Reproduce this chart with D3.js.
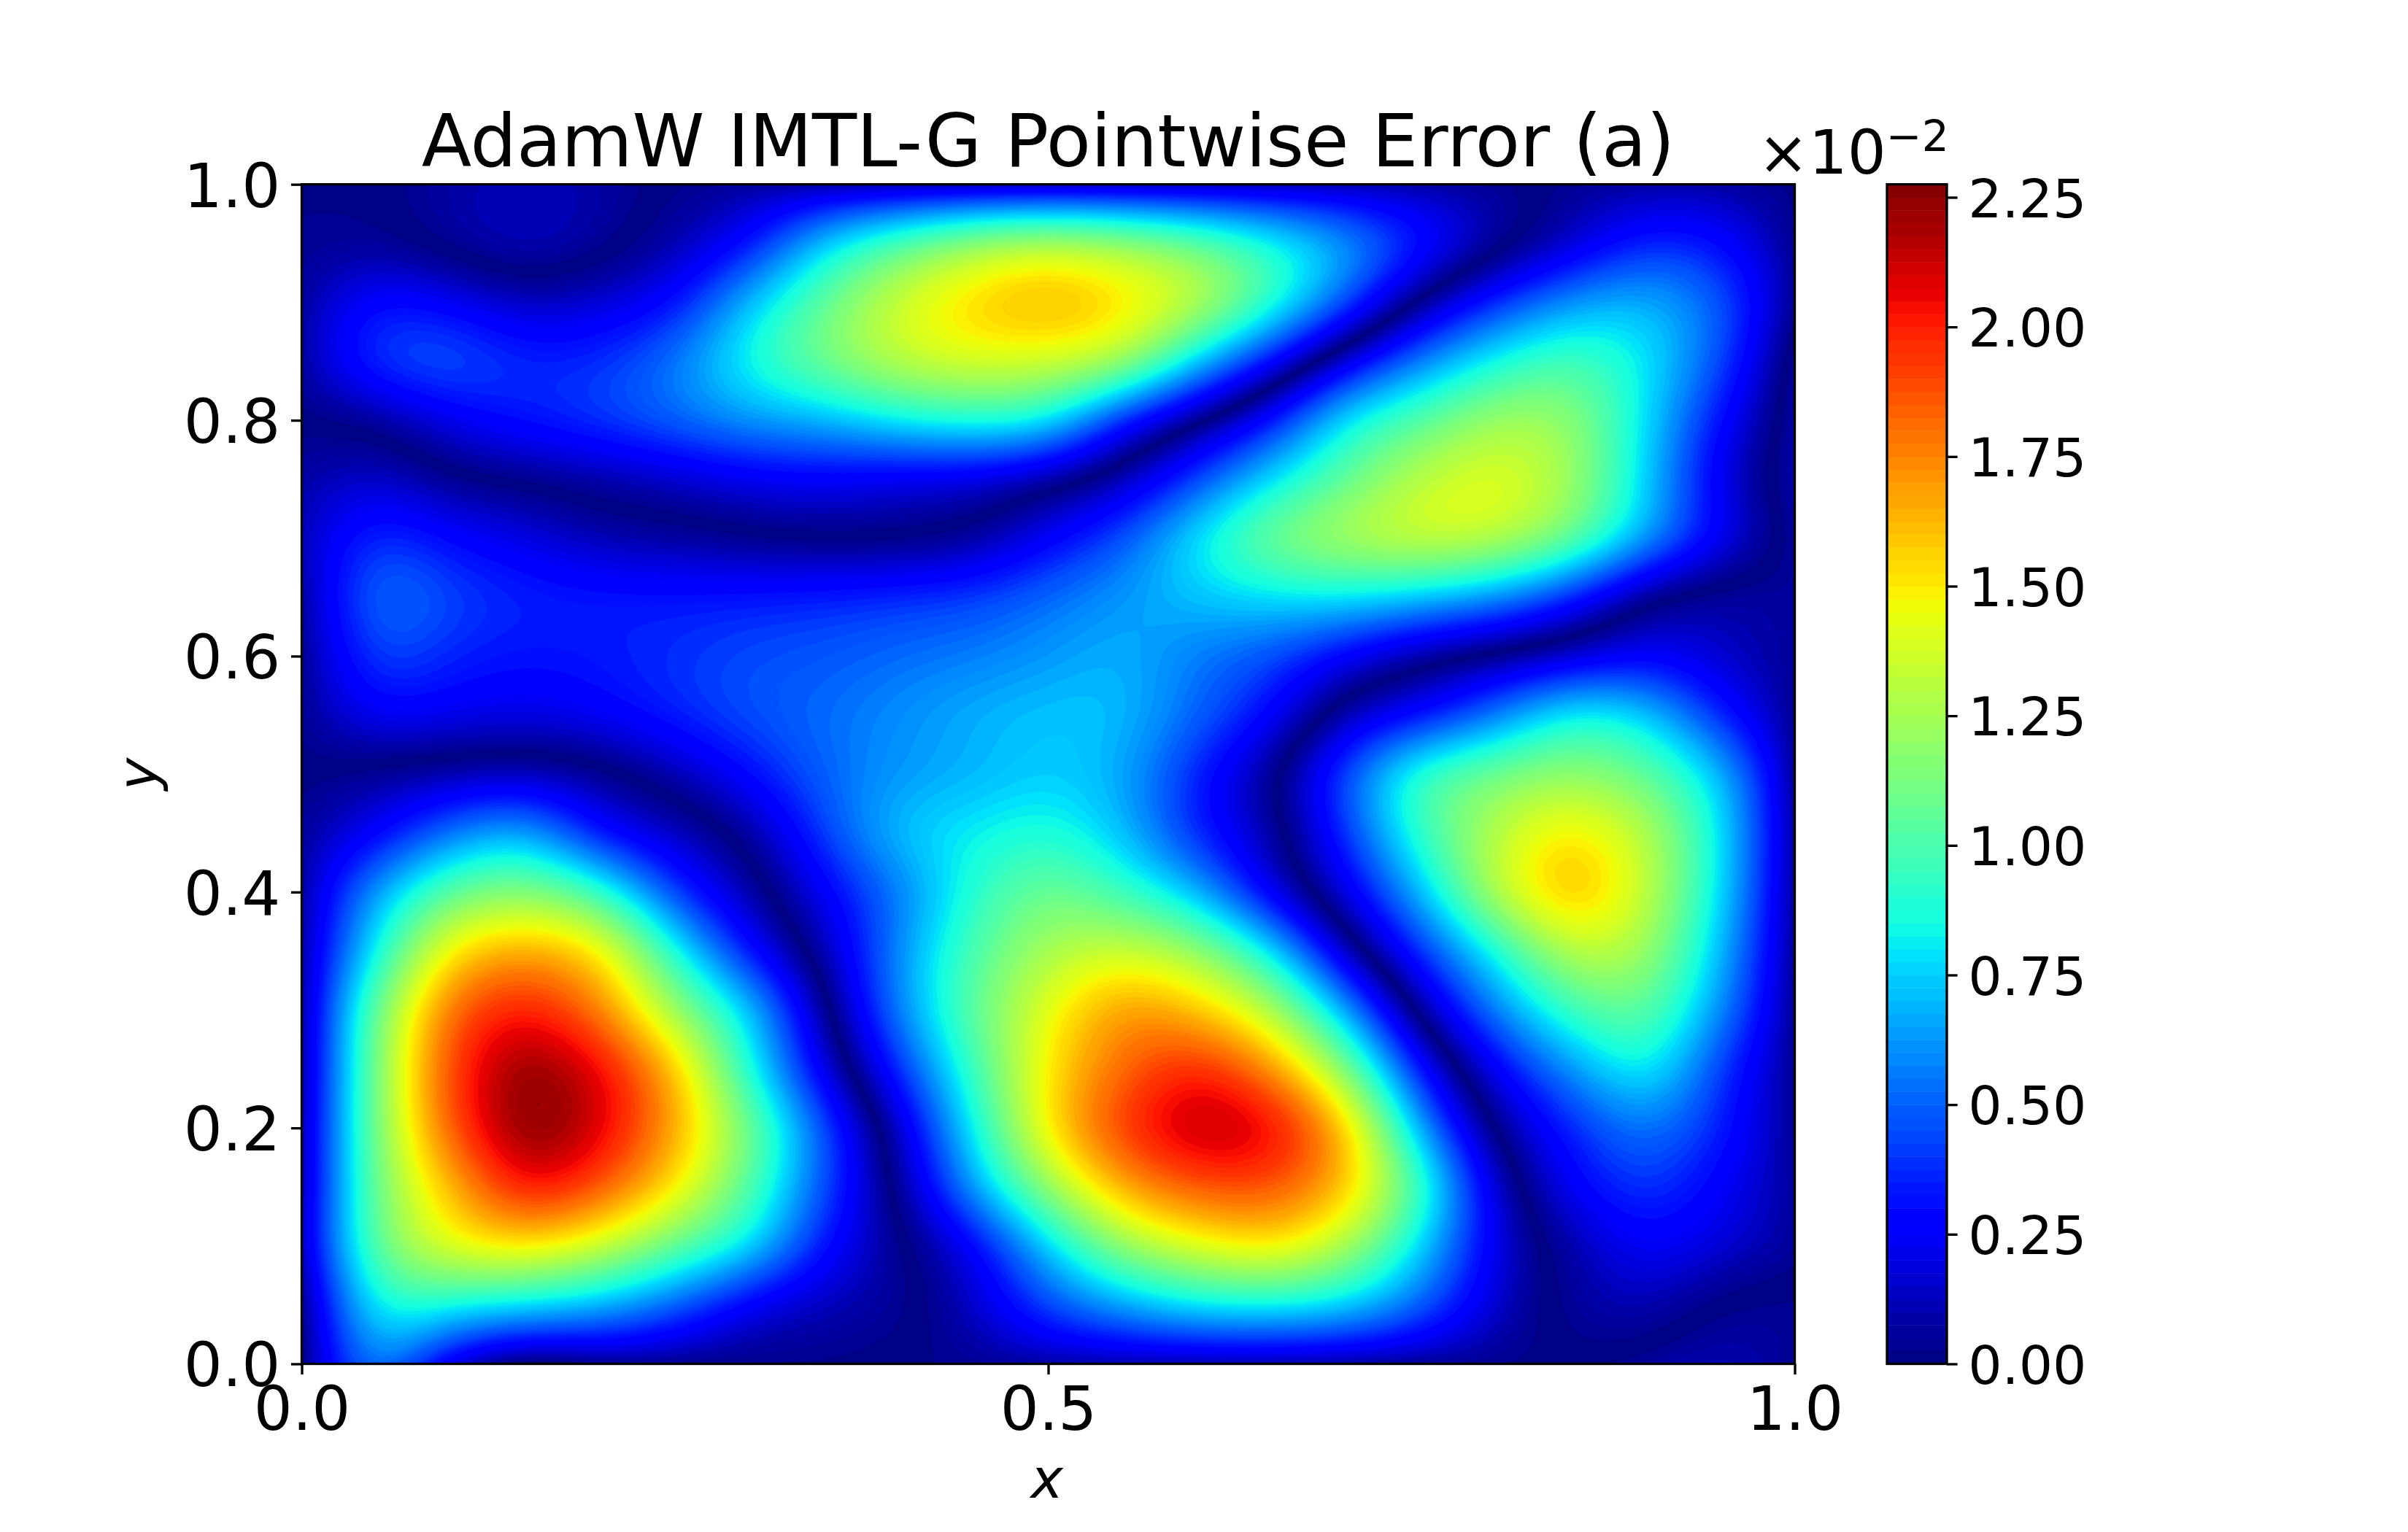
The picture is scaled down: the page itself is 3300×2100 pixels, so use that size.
<!DOCTYPE html>
<html>
<head>
<meta charset="utf-8">
<script src="https://cdn.jsdelivr.net/npm/d3@7"></script>
<style>
html,body{margin:0;padding:0;background:#fff}
svg{display:block}
text{font-family:"DejaVu Sans";fill:#000}
</style>
</head>
<body>
<svg id="chart" width="3300" height="2100"></svg>
<script>
const titleText = "AdamW IMTL-G Pointwise Error (a)";
const xTicks = [0, 0.5, 1];
const yTicks = [0, 0.2, 0.4, 0.6, 0.8, 1];
const cbTicks = [0, 0.25, 0.5, 0.75, 1, 1.25, 1.5, 1.75, 2, 2.25];
const levelStep = 0.025;
const levelCount = 91;
const levelMax = 2.275;
// Error (x 1e-2) at x = 0, .05 ... 1. Rows run from y = 1 down to y = 0.
// The sign flips across each dark valley; the plotted value is the magnitude.
const errorRows = [
[-.02,-.01,.08,.12,.08,-.02,-.06,-.09,-.12,-.13,-.14,-.14,-.14,-.13,-.11,-.08,-.04,.04,.08,.08,.01],
[-.03,-.04,.05,.13,.05,-.10,-.30,-.75,-1.00,-1.20,-1.28,-1.20,-1.05,-.85,-.62,-.33,-.07,.15,.36,.30,.03],
[-.07,-.30,-.24,-.13,-.18,-.30,-.72,-1.05,-1.35,-1.53,-1.62,-1.50,-1.30,-.90,-.45,.05,.38,.62,.68,.48,.05],
[-.08,-.40,-.46,-.36,-.38,-.55,-.85,-1.10,-1.30,-1.38,-1.35,-1.25,-.72,-.28,.20,.58,.85,.98,.80,.45,-.06],
[0,-.04,-.22,-.32,-.40,-.50,-.62,-.68,-.82,-.88,-.82,-.32,-.02,.32,.82,1.02,1.22,1.18,.78,.30,-.08],
[.08,.15,.03,-.02,-.08,-.15,-.22,-.25,-.20,-.18,-.06,.10,.43,.78,1.05,1.30,1.40,1.22,.75,.20,-.10],
[.12,.38,.28,.20,.10,.07,.02,-.01,-.01,.05,.25,.46,.80,1.10,1.25,1.35,1.30,1.08,.65,.25,-.05],
[.08,.52,.42,.35,.33,.32,.33,.35,.38,.42,.52,.62,.72,.78,.80,.72,.60,.35,.01,-.08,-.06],
[.05,.42,.35,.31,.33,.38,.44,.47,.52,.56,.62,.68,.55,.45,.25,.06,-.05,-.15,-.25,-.15,-.05],
[.04,.25,.22,.20,.25,.35,.45,.52,.60,.68,.72,.70,.50,.28,-.12,-.28,-.55,-.85,-.75,-.35,-.04],
[0,-.06,-.10,-.12,-.06,.10,.30,.50,.62,.68,.75,.66,.35,.03,-.45,-.95,-1.10,-1.18,-1.05,-.72,-.06],
[-.06,-.25,-.55,-.68,-.28,-.15,.06,.42,.72,.82,.88,.72,.35,.10,-.40,-.93,-1.28,-1.50,-1.28,-.80,-.08],
[-.08,-.65,-1.05,-1.15,-.95,-.40,-.10,.25,.55,.90,1.10,.95,.70,.20,-.20,-.70,-1.30,-1.60,-1.32,-.78,-.07],
[-.09,-.82,-1.50,-1.65,-1.50,-.87,-.30,.10,.60,1.00,1.25,1.35,1.20,.80,.10,-.39,-.85,-1.30,-1.22,-.70,-.06],
[-.10,-1.08,-1.80,-2.00,-1.75,-1.20,-.75,-.05,.58,1.05,1.42,1.70,1.58,1.27,.65,-.08,-.57,-.95,-1.05,-.60,-.05],
[-.10,-1.12,-1.90,-2.22,-2.05,-1.60,-.85,-.20,.38,.95,1.50,1.80,1.98,1.70,1.13,.30,-.25,-.60,-.85,-.40,-.04],
[-.12,-1.12,-1.85,-2.25,-2.08,-1.65,-1.10,-.45,.15,.82,1.50,1.92,2.14,2.05,1.58,.63,-.03,-.35,-.55,-.35,-.05],
[-.12,-1.10,-1.60,-2.03,-1.85,-1.50,-1.00,-.45,.05,.65,1.20,1.65,1.85,1.85,1.58,.95,.15,-.25,-.40,-.25,-.06],
[-.15,-1.05,-1.42,-1.50,-1.35,-1.05,-.80,-.30,-.03,.25,.75,1.20,1.40,1.50,1.25,.75,.20,-.08,-.25,-.18,-.06],
[-.03,-.85,-.83,-.78,-.68,-.50,-.22,-.12,-.05,.15,.45,.65,.80,.82,.75,.50,.15,-.05,-.12,.02,.04],
[-.02,-.60,-.20,.03,-.05,-.03,-.02,-.02,.01,.04,.08,.10,.10,.10,.08,.05,.03,.00,.05,.12,.03]
];

// layout (px)
const plot = {left: 413.5, right: 2459.5, top: 252.7, bottom: 1869.5};
const bar = {left: 2586, right: 2668};
const lineW = 3.33, tickLen = 14.6, tickPad = 14.6;

// matplotlib jet, 256-entry lookup
const jetR = [[0,0],[.35,0],[.66,1],[.89,1],[1,.5]];
const jetG = [[0,0],[.125,0],[.375,1],[.64,1],[.91,0],[1,0]];
const jetB = [[0,.5],[.11,1],[.34,1],[.65,0],[1,0]];
const seg = (s, t) => d3.scaleLinear().domain(s.map(d => d[0])).range(s.map(d => d[1])).clamp(true)(t);
function jet(t) {
  const k = Math.min(255, Math.floor(t * 256)) / 255;
  return d3.rgb(Math.round(seg(jetR, k) * 255), Math.round(seg(jetG, k) * 255), Math.round(seg(jetB, k) * 255)).formatHex();
}
const levels = d3.range(levelCount).map(i => i * levelStep);
const bandColor = i => jet((i + 0.5) * levelStep / levelMax);

const svg = d3.select("#chart");
const x = d3.scaleLinear().domain([0, 1]).range([plot.left, plot.right]);
const y = d3.scaleLinear().domain([0, 1]).range([plot.bottom, plot.top]);
const c = d3.scaleLinear().domain([0, levelMax]).range([plot.bottom, plot.top]);

// Smooth rendering field: cubic B-spline through the read grid, so hand-reading noise does not show as lumps.
const nx = 615, ny = 486, sharpen = 0.7;
const rows = errorRows.length, cols = errorRows[0].length;
function ghost(g, r, q) { // odd reflection past the edges keeps edge values and slopes
  const R = rows - 1, Q = cols - 1;
  if (r < 0) return 2 * ghost(g, 0, q) - ghost(g, -r, q);
  if (r > R) return 2 * ghost(g, R, q) - ghost(g, 2 * R - r, q);
  if (q < 0) return 2 * g[r][0] - g[r][-q];
  if (q > Q) return 2 * g[r][Q] - g[r][2 * Q - q];
  return g[r][q];
}
const w = [1 / 6, 4 / 6, 1 / 6];
const grid = errorRows.map((row, r) => row.map((v, q) => {
  let s = 0;
  for (let a = -1; a <= 1; a++) for (let b = -1; b <= 1; b++) s += w[a + 1] * w[b + 1] * ghost(errorRows, r + a, q + b);
  return v + sharpen * (v - s);
}));
function bs(t) {
  const t2 = t * t, t3 = t2 * t;
  return [(1 - 3 * t + 3 * t2 - t3) / 6, (4 - 6 * t2 + 3 * t3) / 6, (1 + 3 * t + 3 * t2 - 3 * t3) / 6, t3 / 6];
}
function sample(u, v) {
  const fq = u * (cols - 1), fr = v * (rows - 1);
  const q = Math.min(cols - 2, Math.floor(fq)), r = Math.min(rows - 2, Math.floor(fr));
  const wq = bs(fq - q), wr = bs(fr - r);
  let s = 0;
  for (let a = 0; a < 4; a++) for (let b = 0; b < 4; b++) s += wr[a] * wq[b] * ghost(grid, r + a - 1, q + b - 1);
  return s;
}
const field = new Float64Array(nx * ny);
for (let j = 0; j < ny; j++) for (let i = 0; i < nx; i++) {
  field[j * nx + i] = Math.min(levelMax - 0.001, Math.abs(sample(i / (nx - 1), j / (ny - 1))));
}
const contourSets = d3.contours().size([nx, ny]).smooth(true).thresholds(levels)(field);
const toAxes = d3.geoTransform({
  point(px, py) {
    this.stream.point(x((px - 0.5) / (nx - 1)), y(1 - (py - 0.5) / (ny - 1)));
  }
});
const geo = d3.geoPath(toAxes);

svg.append("clipPath").attr("id", "plotClip").append("rect")
  .attr("x", plot.left).attr("y", plot.top)
  .attr("width", plot.right - plot.left).attr("height", plot.bottom - plot.top);

svg.append("g").attr("clip-path", "url(#plotClip)")
  .selectAll("path").data(contourSets).join("path")
  .attr("d", geo)
  .attr("fill", (d, i) => bandColor(i))
  .attr("stroke", (d, i) => bandColor(i))
  .attr("stroke-width", 0.5);

// Colourbar
svg.append("g").selectAll("rect").data(levels).join("rect")
  .attr("x", bar.left)
  .attr("width", bar.right - bar.left)
  .attr("y", d => c(d + levelStep))
  .attr("height", d => c(d) - c(d + levelStep) + 0.5)
  .attr("fill", (d, i) => bandColor(i));

function style(g, fontSize) {
  g.selectAll("text").style("font-size", fontSize + "px").style("font-family", '"DejaVu Sans"');
  g.selectAll("line").attr("stroke", "#000").attr("stroke-width", lineW);
  g.select(".domain").remove();
}

const axisBottom = d3.axisBottom(x).tickValues(xTicks).tickFormat(d3.format(".1f")).tickSize(tickLen).tickPadding(tickPad);
const gx = svg.append("g").attr("transform", `translate(0,${plot.bottom})`).call(axisBottom).call(style, 83.33);
gx.selectAll("text").attr("dy", "0.73em");

const axisLeft = d3.axisLeft(y).tickValues(yTicks).tickFormat(d3.format(".1f")).tickSize(tickLen).tickPadding(tickPad);
const gy = svg.append("g").attr("transform", `translate(${plot.left},0)`).call(axisLeft).call(style, 83.33);
gy.selectAll("text").attr("dy", "0.365em");

const axisCb = d3.axisRight(c).tickValues(cbTicks).tickFormat(d3.format(".2f")).tickSize(tickLen).tickPadding(tickPad);
const gc = svg.append("g").attr("transform", `translate(${bar.right},0)`).call(axisCb).call(style, 72.9);
gc.selectAll("text").attr("dy", "0.365em");

// Frames
svg.append("rect").attr("x", plot.left).attr("y", plot.top)
  .attr("width", plot.right - plot.left).attr("height", plot.bottom - plot.top)
  .attr("fill", "none").attr("stroke", "#000").attr("stroke-width", lineW);
svg.append("rect").attr("x", bar.left).attr("y", plot.top)
  .attr("width", bar.right - bar.left).attr("height", plot.bottom - plot.top)
  .attr("fill", "none").attr("stroke", "#000").attr("stroke-width", lineW);

// Titles and labels
svg.append("text").attr("x", (plot.left + plot.right) / 2).attr("y", 227.6)
  .attr("text-anchor", "middle").style("font-size", "100px").text(titleText);
svg.append("text").attr("x", 1434.7).attr("y", 2052.7)
  .attr("text-anchor", "middle").style("font-size", "75px").style("font-style", "italic").text("x");
svg.append("text").attr("transform", "translate(215,1061) rotate(-90)")
  .attr("text-anchor", "middle").style("font-size", "75px").style("font-style", "italic").text("y");
const off = svg.append("text").attr("x", 2409).attr("y", 238.3).style("font-size", "83.33px");
off.append("tspan").text("×10");
off.append("tspan").attr("dy", -31.6).style("font-size", "58.3px").text("−2");
</script>
</body>
</html>
